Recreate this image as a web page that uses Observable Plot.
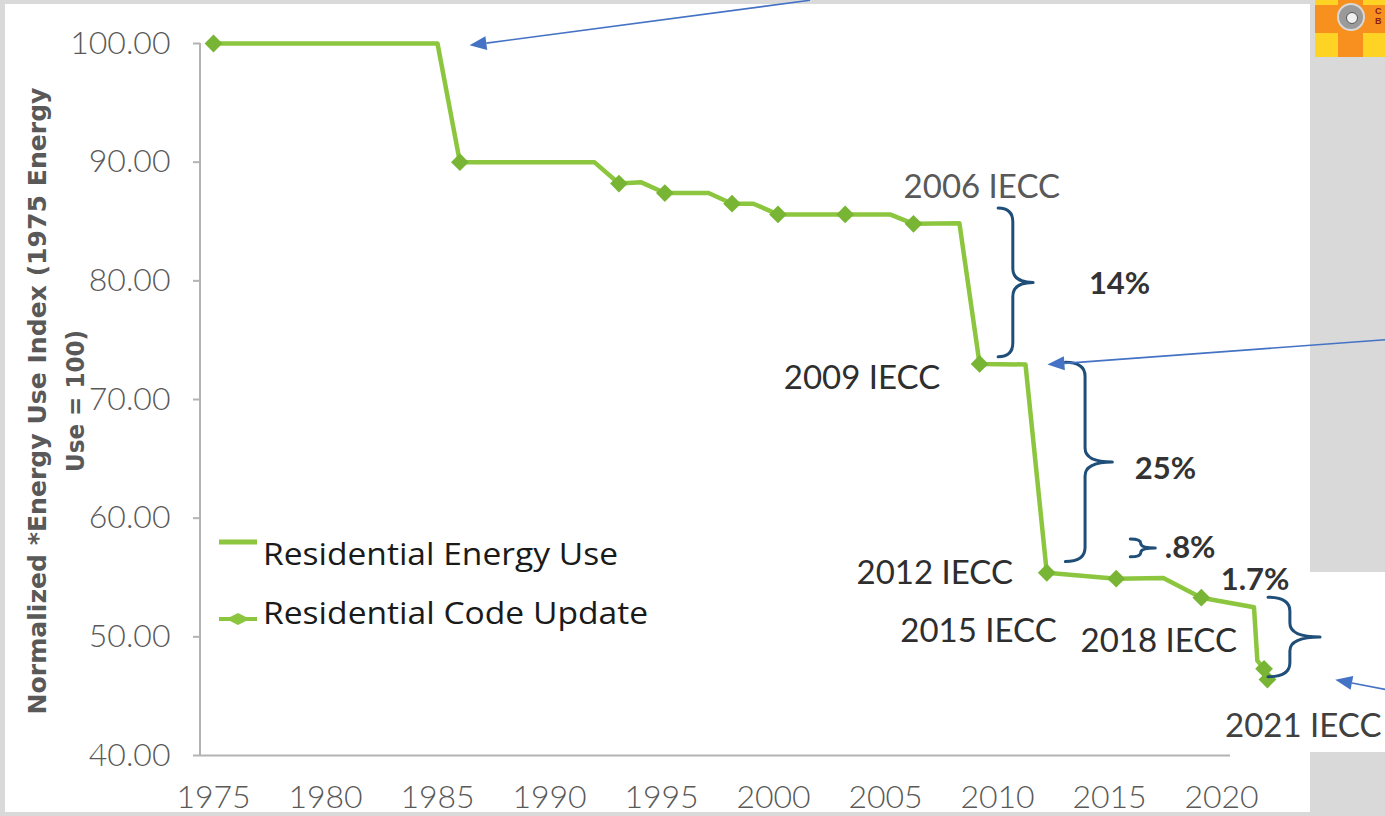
<!DOCTYPE html>
<html>
<head>
<meta charset="utf-8">
<script src="https://cdn.jsdelivr.net/npm/d3@7"></script>
<script src="https://cdn.jsdelivr.net/npm/@observablehq/plot@0.6"></script>
<style>
  html, body { margin: 0; padding: 0; width: 1385px; height: 816px; overflow: hidden; background: #d9d9d9; position: relative; }
  #panel { position: absolute; left: 5px; top: 4px; width: 1305px; height: 808px; background: #ffffff; }
  #box2021 { position: absolute; left: 1303px; top: 572px; width: 82px; height: 180px; background: #ffffff; }
  #logo { position: absolute; left: 1315px; top: 0; width: 70px; height: 57px; background: #ffd324; overflow: hidden; }
  #logo .h { position: absolute; left: 0; top: 5px; width: 70px; height: 28px; background: #f7901e; }
  #logo .v { position: absolute; left: 23px; top: 0; width: 25px; height: 57px; background: #f7901e; }
  #logo .c { position: absolute; left: 22px; top: 3px; width: 28px; height: 28px; border-radius: 50%; background: #9a9a9a; border: 2px solid #d8d8d8; box-sizing: border-box; }
  #logo .c::after { content: ""; position: absolute; left: 7px; top: 7px; width: 10px; height: 10px; border-radius: 50%; background: #f0f0f0; border: 1px solid #555; }
  #logo .t { position: absolute; left: 60px; top: 6px; font: bold 9px "Liberation Sans", sans-serif; color: #8a1c1c; line-height: 10px; }
  #chart { position: absolute; left: 0; top: 0; }
</style>
</head>
<body>
<div id="panel"></div>
<div id="box2021"></div>
<div id="logo"><div class="h"></div><div class="v"></div><div class="c"></div><div class="t">C<br>B</div></div>
<div id="chart"></div>
<script>
// ---------- data ----------
const lineYears = [1975, 1985, 1986, 1992, 1993.1, 1994.1, 1995.15, 1997.1, 1998.15, 1999.1, 2000.2, 2003.2, 2005.2, 2006.25, 2008.3, 2009.2, 2011.25, 2012.2, 2015.3, 2017.4, 2019.1, 2021.45, 2021.6, 2021.9, 2022.05];
const lineIndex = [100, 100, 90, 90, 88.2, 88.3, 87.4, 87.4, 86.5, 86.5, 85.6, 85.6, 85.6, 84.8, 84.85, 73.0, 72.95, 55.4, 54.9, 54.95, 53.3, 52.5, 48.0, 47.3, 46.4];

const codeYears = [1975, 1986, 1993.1, 1995.15, 1998.15, 2000.2, 2003.2, 2006.25, 2009.2, 2012.2, 2015.3, 2019.1, 2021.9, 2022.05];
const codeIndex = [100, 90, 88.2, 87.4, 86.5, 85.6, 85.6, 84.8, 73.0, 55.4, 54.9, 53.3, 47.3, 46.4];

const xTicks = [1975, 1980, 1985, 1990, 1995, 2000, 2005, 2010, 2015, 2020];
const yTicks = [40, 50, 60, 70, 80, 90, 100];

const codeLabels = ["2006 IECC", "2009 IECC", "2012 IECC", "2015 IECC", "2018 IECC", "2021 IECC"];
const codeLabelYears = [2009.3, 2003.95, 2007.2, 2009.15, 2017.2, 2023.65];
const codeLabelValues = [87.85, 71.75, 55.35, 50.45, 49.6, 42.45];

const pctLabels = ["14%", "25%", ".8%", "1.7%"];
const pctYears = [2015.45, 2017.5, 2018.6, 2021.5];
const pctValues = [79.7, 64.1, 57.45, 54.75];

// braces: left edge year, top value, bottom value
const braceYears = [2010.05, 2013.05, 2015.95, 2022.1];
const braceTops = [86.1, 73.1, 58.2, 53.3];
const braceBottoms = [73.55, 56.3, 56.7, 46.6];

// arrows: tail (year, value) -> tip (year, value)
const arrowFromYears = [2001.65, 2027.4, 2027.4];
const arrowFromValues = [103.6, 75.0, 45.5];
const arrowToYears = [1986.45, 2012.25, 2025.1];
const arrowToValues = [99.8, 72.9, 46.35];

const legendLabels = ["Residential Energy Use", "Residential Code Update"];
const yTitle = ["Normalized *Energy Use Index (1975 Energy", "Use = 100)"];

// ---------- style ----------
const green = "#8cc63f";
const greenDark = "#78b534";
const axisGray = "#b3b3b3";
const textGray = "#595959";
const braceBlue = "#1f4e79";
const arrowBlue = "#4472c4";
const braceWidths = [35, 47, 25, 52];
const codeLabelColors = ["#595959", "#2e2e2e", "#2e2e2e", "#2e2e2e", "#2e2e2e", "#404040"];

const lineData = lineYears.map((y, i) => ({year: y, v: lineIndex[i]}));
const codeData = codeYears.map((y, i) => ({year: y, v: codeIndex[i]}));
const codeLabelData = codeLabels.map((t, i) => ({t, year: codeLabelYears[i], v: codeLabelValues[i], c: codeLabelColors[i]}));
const pctData = pctLabels.map((t, i) => ({t, year: pctYears[i], v: pctValues[i]}));

function yAxisLine(index, scales, values, dims) {
  const [y0, y1] = [scales.y(40), scales.y(100)];
  return d3.create("svg:line")
    .attr("x1", dims.marginLeft).attr("x2", dims.marginLeft)
    .attr("y1", y0).attr("y2", y1)
    .attr("stroke", axisGray).attr("stroke-width", 2).node();
}

function braces(index, scales) {
  const g = d3.create("svg:g").attr("fill", "none").attr("stroke", braceBlue)
    .attr("stroke-width", 3).attr("stroke-linecap", "round");
  braceYears.forEach((by, i) => {
    const x0 = scales.x(by), y1 = scales.y(braceTops[i]), y2 = scales.y(braceBottoms[i]);
    const w = braceWidths[i];
    const xs = x0 + w * 0.42, xt = x0 + w, ym = (y1 + y2) / 2;
    const r = Math.min(14, (y2 - y1) / 4);
    const p = `M${x0},${y1} Q${xs},${y1} ${xs},${y1 + r} L${xs},${ym - r} Q${xs},${ym} ${xt},${ym} ` +
              `M${xt},${ym} Q${xs},${ym} ${xs},${ym + r} L${xs},${y2 - r} Q${xs},${y2} ${x0},${y2}`;
    g.append("path").attr("d", p);
  });
  return g.node();
}

function arrows(index, scales) {
  const g = d3.create("svg:g");
  arrowFromYears.forEach((fy, i) => {
    const xa = scales.x(fy), ya = scales.y(arrowFromValues[i]);
    const xb = scales.x(arrowToYears[i]), yb = scales.y(arrowToValues[i]);
    const dx = xb - xa, dy = yb - ya, L = Math.hypot(dx, dy);
    const ux = dx / L, uy = dy / L, hl = 17, hw = 7;
    const bx = xb - ux * hl, by = yb - uy * hl;
    g.append("line").attr("x1", xa).attr("y1", ya).attr("x2", bx).attr("y2", by)
      .attr("stroke", arrowBlue).attr("stroke-width", 1.6);
    g.append("path")
      .attr("d", `M${xb},${yb} L${bx - uy * hw},${by + ux * hw} L${bx + uy * hw},${by - ux * hw} Z`)
      .attr("fill", arrowBlue);
  });
  return g.node();
}

function titleAndLegend(index, scales, values, dims) {
  const g = d3.create("svg:g");
  // y axis title (two centred lines)
  const cy = (scales.y(40) + scales.y(100)) / 2 + 2;
  const lens = [627, 142];
  const xs = [38, 76];
  yTitle.forEach((t, i) => {
    g.append("text").text(t)
      .attr("transform", `translate(${xs[i]},${cy}) rotate(-90)`)
      .attr("text-anchor", "middle").attr("dominant-baseline", "central")
      .attr("font-family", "'DejaVu Sans', sans-serif").attr("font-weight", "bold")
      .attr("font-size", 24).attr("fill", textGray)
      .attr("textLength", lens[i]).attr("lengthAdjust", "spacingAndGlyphs");
  });
  // legend
  const lx = dims.marginLeft + 19;
  const rows = [565, 624];
  const tl = [355, 385];
  g.append("line").attr("x1", lx).attr("x2", lx + 38).attr("y1", 542).attr("y2", 542)
    .attr("stroke", green).attr("stroke-width", 5);
  g.append("line").attr("x1", lx).attr("x2", lx + 38).attr("y1", 619).attr("y2", 619)
    .attr("stroke", green).attr("stroke-width", 4);
  g.append("path").attr("d", d3.symbol(d3.symbolDiamond2, 160)()).attr("transform", `translate(${lx + 19},619) scale(1.5,0.75)`)
    .attr("fill", green);
  legendLabels.forEach((t, i) => {
    g.append("text").text(t).attr("x", lx + 44).attr("y", rows[i])
      .attr("text-anchor", "start")
      .attr("font-family", "'Open Sans', sans-serif").attr("font-size", 31).attr("fill", "#1a1a1a")
      .attr("textLength", tl[i]).attr("lengthAdjust", "spacingAndGlyphs");
  });
  return g.node();
}

const chart = Plot.plot({
  width: 1385,
  height: 816,
  marginLeft: 200,
  marginRight: 155,
  marginTop: 43,
  marginBottom: 61,
  style: {background: "transparent", fontFamily: "Lato, 'DejaVu Sans', sans-serif", fontSize: "32px", color: textGray, overflow: "visible"},
  x: {domain: [1975, 2020], range: [213, 1221], axis: null},
  y: {domain: [40, 100], axis: null},
  marks: [
    Plot.ruleY([40], {stroke: axisGray, strokeWidth: 2}),
    yAxisLine,
    Plot.axisY(yTicks, {anchor: "left", tickSize: 7, tickPadding: 23, tickFormat: d => d.toFixed(2),
      color: textGray, stroke: axisGray, strokeWidth: 2, fontSize: 32, fontWeight: 300, label: null}),
    Plot.axisX(xTicks, {anchor: "bottom", tickSize: 0, tickPadding: 30, tickFormat: d => String(d),
      color: textGray, fontSize: 32, fontWeight: 300, label: null}),
    Plot.line(lineData, {x: "year", y: "v", stroke: green, strokeWidth: 4.5, strokeLinejoin: "round"}),
    Plot.dot(codeData, {x: "year", y: "v", symbol: "diamond2", r: 8, fill: greenDark, stroke: "none"}),
    braces,
    arrows,
    Plot.text(codeLabelData, {x: "year", y: "v", text: "t", fontSize: 33, fill: "c", textAnchor: "middle"}),
    Plot.text(pctData, {x: "year", y: "v", text: "t", fontSize: 31, fontWeight: "bold", fill: "#333333", textAnchor: "middle"}),
    titleAndLegend
  ]
});
document.getElementById("chart").appendChild(chart);
</script>
</body>
</html>
